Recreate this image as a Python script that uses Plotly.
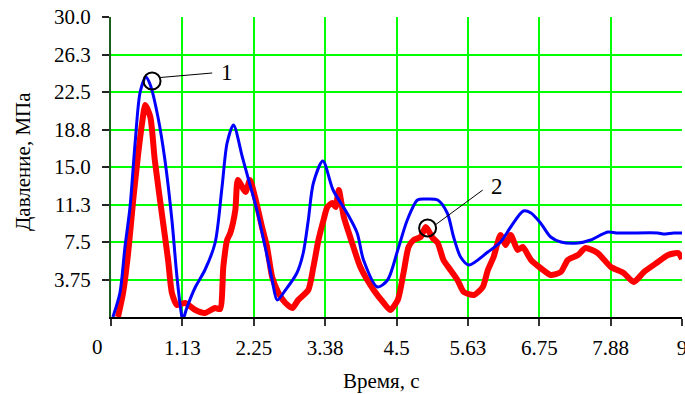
import plotly.graph_objects as go

# Blue curve (1)
t_blue = [0.03, 0.14, 0.22, 0.30, 0.38, 0.46, 0.55, 0.62, 0.74, 0.85, 0.96, 1.04, 1.11, 1.13,
          1.20, 1.33, 1.48, 1.64, 1.75, 1.83, 1.93, 2.07, 2.17, 2.30, 2.43, 2.54, 2.62,
          2.75, 2.93, 3.03, 3.11, 3.19, 3.34, 3.50, 3.72, 3.88, 3.98, 4.20, 4.36, 4.52,
          4.67, 4.83, 4.95, 5.15, 5.30, 5.40, 5.51, 5.64, 5.94, 6.14, 6.30, 6.50, 6.62,
          6.77, 6.93, 7.09, 7.36, 7.56, 7.83, 7.99, 8.62, 8.70, 8.87, 9.00]
p_blue = [0.0, 2.4, 7.0, 11.0, 17.4, 22.5, 24.0, 23.2, 20.0, 15.7, 9.7, 4.0, 0.3, -0.3,
          1.0, 3.0, 4.7, 7.4, 13.0, 17.4, 19.2, 16.0, 13.7, 10.7, 7.0, 3.7, 1.7,
          2.7, 4.4, 6.4, 9.7, 13.4, 15.6, 12.7, 10.4, 8.4, 5.7, 3.0, 3.7, 6.7,
          9.7, 11.7, 11.8, 11.7, 10.4, 8.0, 6.0, 5.2, 6.5, 7.5, 9.0, 10.6, 10.4,
          9.4, 8.0, 7.5, 7.4, 7.7, 8.5, 8.4, 8.4, 8.3, 8.4, 8.4]

# Red curve (2)
t_red = [0.11, 0.19, 0.27, 0.35, 0.43, 0.49, 0.54, 0.62, 0.69, 0.80, 0.90, 0.96, 1.04,
         1.17, 1.33, 1.48, 1.64, 1.72, 1.77, 1.83, 1.88, 1.96, 2.00, 2.12, 2.19, 2.27,
         2.38, 2.46, 2.54, 2.64, 2.75, 2.86, 2.95, 3.11, 3.19, 3.27, 3.35, 3.41, 3.49,
         3.54, 3.59, 3.67, 3.77, 3.93, 4.14, 4.30, 4.40, 4.52, 4.61, 4.69, 4.77, 4.88,
         4.96, 5.07, 5.15, 5.24, 5.35, 5.46, 5.56, 5.72, 5.86, 5.94, 6.03, 6.14, 6.22,
         6.30, 6.41, 6.49, 6.62, 6.77, 6.93, 7.09, 7.20, 7.36, 7.48, 7.67, 7.88, 8.08,
         8.24, 8.40, 8.62, 8.78, 8.94, 9.00]
p_red = [0.0, 2.4, 6.4, 11.7, 16.4, 19.4, 21.2, 20.0, 15.7, 10.4, 5.7, 2.4, 1.2,
         1.4, 0.7, 0.4, 0.9, 0.8, 5.0, 7.7, 8.4, 10.7, 13.7, 12.5, 13.7, 12.0,
         9.0, 7.0, 4.0, 2.4, 1.4, 0.9, 1.7, 2.7, 5.0, 7.7, 9.7, 11.0, 11.4,
         11.0, 12.7, 10.0, 8.0, 5.0, 2.7, 1.4, 0.7, 1.7, 4.4, 7.0, 7.7, 8.0,
         9.0, 7.9, 7.4, 5.7, 4.7, 3.7, 2.5, 2.2, 3.0, 4.7, 6.0, 8.2, 7.2,
         8.2, 6.7, 7.0, 5.7, 4.9, 4.2, 4.5, 5.7, 6.2, 6.9, 6.4, 5.0, 4.4,
         3.5, 4.5, 5.5, 6.2, 6.4, 5.8]

x_ticks = [0, 1.125, 2.25, 3.375, 4.5, 5.625, 6.75, 7.875, 9]
x_labels = ["", "1.13", "2.25", "3.38", "4.5", "5.63", "6.75", "7.88", "9"]
y_ticks = [3.75, 7.5, 11.25, 15.0, 18.75, 22.5, 26.25, 30.0]
y_labels = ["3.75", "7.5", "11.3", "15.0", "18.8", "22.5", "26.3", "30.0"]

FONT = "Liberation Serif"
FS = 21

# page body margin is removed by the post script, so the figure fills the window
W, H = 685, 394
L, R, T, B = 111, 3, 17, 77
pw, ph = W - L - R, H - T - B


def px_to_paper(x, y):
    """page pixel -> paper coords"""
    return (x - L) / pw, (H - B - y) / ph


fig = go.Figure()
fig.add_trace(go.Scatter(x=t_red, y=p_red, mode="lines",
                         line=dict(color="#ff0000", width=6, shape="spline", smoothing=0.6),
                         showlegend=False))
fig.add_trace(go.Scatter(x=t_blue, y=p_blue, mode="lines",
                         line=dict(color="#0000ff", width=3, shape="spline", smoothing=0.8),
                         showlegend=False))

# Callouts
c1 = (0.647, 23.6); l1 = (1.595, 24.4); lab1 = (1.83, 24.5)
c2 = (4.99, 8.9); l2 = (5.86, 12.7); lab2 = (6.09, 13.1)
for c, l in ((c1, l1), (c2, l2)):
    fig.add_shape(type="circle", xref="x", yref="y", xsizemode="pixel", ysizemode="pixel",
                  xanchor=c[0], yanchor=c[1], x0=-8.5, x1=8.5, y0=-8.5, y1=8.5,
                  line=dict(color="black", width=2))
    fig.add_shape(type="line", xref="x", yref="y", x0=c[0] + 0.13, y0=c[1] + 0.35,
                  x1=l[0], y1=l[1], line=dict(color="black", width=1))
for lab, txt in ((lab1, "1"), (lab2, "2")):
    fig.add_annotation(x=lab[0], y=lab[1], xref="x", yref="y", text=txt, showarrow=False,
                       xanchor="center", yanchor="middle",
                       font=dict(family=FONT, size=23, color="black"))

fig.add_annotation(x=0, y=0, xref="x", yref="y", text="0", showarrow=False,
                   xanchor="center", yanchor="middle",
                   xshift=-14, yshift=-30, font=dict(family=FONT, size=FS, color="black"))
xt = px_to_paper(381, 381)
fig.add_annotation(x=xt[0], y=xt[1], xref="paper", yref="paper", text="Время, с",
                   xanchor="center", yanchor="middle",
                   showarrow=False, font=dict(family=FONT, size=FS, color="black"))
yt = px_to_paper(23, 162)
fig.add_annotation(x=yt[0], y=yt[1], xref="paper", yref="paper",
                   text="Давление, МПа", textangle=-90, showarrow=False,
                   xanchor="center", yanchor="middle",
                   font=dict(family=FONT, size=FS, color="black"))

fig.update_layout(
    width=W, height=H,
    margin=dict(l=L, r=R, t=T, b=B, autoexpand=False),
    paper_bgcolor="white", plot_bgcolor="white",
    font=dict(family=FONT, size=FS, color="black"),
    xaxis=dict(range=[0, 9], tickvals=x_ticks, ticktext=x_labels,
               showgrid=True, gridcolor="#00ff00", gridwidth=1.5,
               showline=True, linecolor="black", linewidth=1.5,
               ticks="outside", ticklen=7, tickcolor="#333333", tickwidth=1.5,
               zeroline=False, automargin=False, ticklabelstandoff=4,
               ticklabeloverflow="allow"),
    yaxis=dict(range=[0, 30], tickvals=y_ticks, ticktext=y_labels,
               showgrid=True, gridcolor="#00ff00", gridwidth=1.5,
               showline=True, linecolor="#1b5e20", linewidth=2,
               ticks="outside", ticklen=7, tickcolor="#222222", tickwidth=1.5,
               zeroline=False, automargin=False, ticklabelstandoff=7,
               ticklabeloverflow="allow"),
)
fig.write_html(
    "out.html",
    config={"displayModeBar": False},
    post_script="document.body.style.margin='0';document.body.style.overflow='hidden';",
)
